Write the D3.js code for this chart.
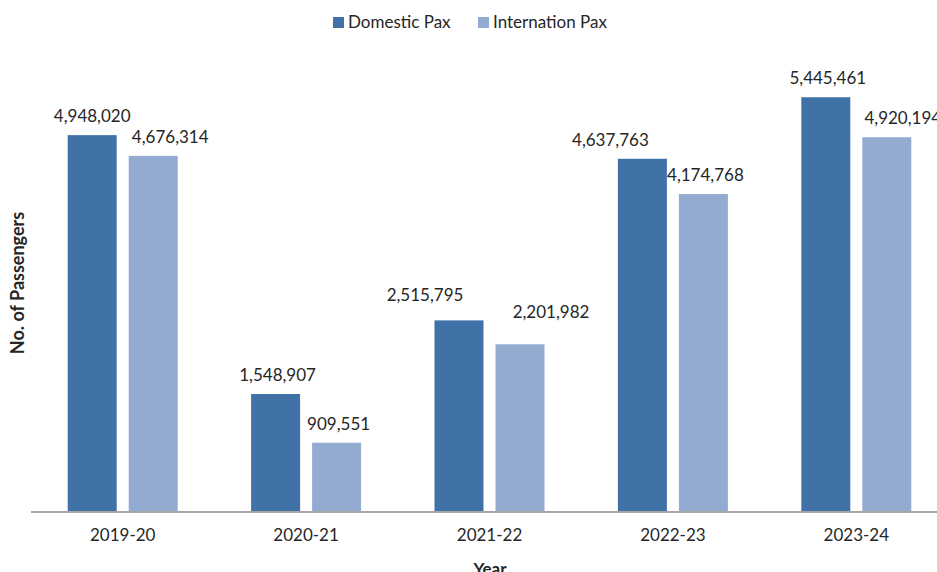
<!DOCTYPE html>
<html>
<head>
<meta charset="utf-8">
<script src="https://cdn.jsdelivr.net/npm/d3@7/dist/d3.min.js"></script>
<style>
  body { margin: 0; background: #fff; }
  text { font-family: Lato, "Open Sans", sans-serif; fill: #262626; }
</style>
</head>
<body>
<div id="chart"></div>
<script>
// data
const years = ["2019-20", "2020-21", "2021-22", "2022-23", "2023-24"];
const seriesNames = ["Domestic Pax", "Internation Pax"];
const domesticPax = [4948020, 1548907, 2515795, 4637763, 5445461];
const internationalPax = [4676314, 909551, 2201982, 4174768, 4920194];

// label nudges (dx, extra lift) so they sit like the original
const labelNudge = [
    [[0, 0], [17, 0]],
    [[2, 0], [2, 0]],
    [[-34, 6], [31, 13]],
    [[-32, 0], [2, 0]],
    [[2, 0], [16, 0]]
];

const w = 937, h = 572;
const colours = ["#4072A8", "#93AAD1"];

const svg = d3.select("#chart").append("svg").attr("width", w).attr("height", h);

const rows = years.map((y, i) => ({ year: y, values: [domesticPax[i], internationalPax[i]], i: i }));

const x0 = d3.scaleBand().domain(years).range([31, 948]).padding(0);
const x1 = d3.scaleBand().domain(seriesNames)
    .range([(x0.bandwidth() - 110) / 2, (x0.bandwidth() + 110) / 2])
    .paddingInner(0.197);
const y = d3.scaleLinear().domain([0, 6000000]).range([512, 55]);

const fmt = d3.format(",");

const groups = svg.selectAll("g.year")
    .data(rows)
    .enter()
    .append("g")
    .classed("year", true)
    .attr("transform", d => `translate(${x0(d.year)},0)`);

groups.selectAll("rect")
    .data(d => d.values.map((v, k) => ({ v: v, k: k, i: d.i })))
    .enter()
    .append("rect")
    .attr("x", d => x1(seriesNames[d.k]))
    .attr("y", d => y(d.v))
    .attr("width", x1.bandwidth())
    .attr("height", d => y(0) - y(d.v))
    .attr("fill", d => colours[d.k]);

groups.selectAll("text.lbl")
    .data(d => d.values.map((v, k) => ({ v: v, k: k, i: d.i })))
    .enter()
    .append("text")
    .classed("lbl", true)
    .attr("x", d => x1(seriesNames[d.k]) + x1.bandwidth() / 2 + labelNudge[d.i][d.k][0])
    .attr("y", d => y(d.v) - 13 - labelNudge[d.i][d.k][1])
    .attr("text-anchor", "middle")
    .style("font-size", "17px")
    .text(d => fmt(d.v));

// x axis (line + labels only)
const xAxis = svg.append("g")
    .attr("transform", "translate(0,512)")
    .call(d3.axisBottom(x0).tickSize(0).tickPadding(17));
xAxis.select(".domain").attr("stroke", "#A6A6A6").attr("stroke-width", 1.8)
    .attr("d", "M31,0H937");
xAxis.selectAll("text")
    .style("font-family", "Lato, sans-serif")
    .style("font-size", "17px")
    .attr("fill", "#262626");

svg.append("text")
    .attr("x", 490)
    .attr("y", 575)
    .attr("text-anchor", "middle")
    .style("font-size", "17px")
    .style("font-weight", "bold")
    .text("Year");

svg.append("text")
    .attr("transform", "translate(24,283) rotate(-90)")
    .attr("text-anchor", "middle")
    .style("font-size", "18px")
    .style("font-weight", "bold")
    .text("No. of Passengers");

// legend
const legend = svg.append("g").attr("transform", "translate(333,17)");
const legendX = [0, 145];
seriesNames.forEach((name, k) => {
    legend.append("rect")
        .attr("x", legendX[k])
        .attr("y", 0)
        .attr("width", 11)
        .attr("height", 11)
        .attr("fill", colours[k]);
    legend.append("text")
        .attr("x", legendX[k] + 15)
        .attr("y", 11)
        .style("font-size", "17px")
        .text(name);
});
</script>
</body>
</html>
